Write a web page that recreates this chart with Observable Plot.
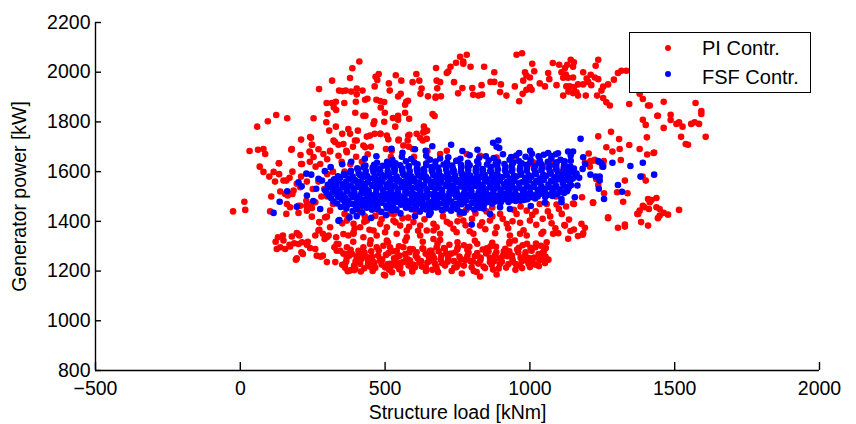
<!DOCTYPE html>
<html><head><meta charset="utf-8">
<script src="https://cdn.jsdelivr.net/npm/d3@7"></script>
<script src="https://cdn.jsdelivr.net/npm/@observablehq/plot@0.6"></script>
<style>
body{margin:0;background:#fff;}
#wrap{position:relative;width:856px;height:424px;font-family:"Liberation Sans",Arial,Helvetica,sans-serif;}
#legend{position:absolute;left:629px;top:32px;width:180px;height:59px;border:1px solid #000;background:#fff;font-size:20px;color:#000;}
#legend .mk{position:absolute;width:6.5px;height:6.5px;border-radius:50%;}
#legend .lb{position:absolute;line-height:24px;white-space:nowrap;}
</style></head><body><div id="wrap"></div>
<script>
const xTicks = [-500, 0, 500, 1000, 1500, 2000];
const yTicks = [800, 1000, 1200, 1400, 1600, 1800, 2000, 2200];
const xLabel = "Structure load [kNm]";
const yLabel = "Generator power [kW]";
const seriesNames = ["PI Contr.", "FSF Contr."];
const seriesColors = ["#ff0000", "#0000ff"];

// PI controller: [structure load kNm, generator power kW]
const piPoints = [
[411,2043],[387,2016],[478,1993],[467,1982],[537,1988],[608,1993],[379,1977],[317,1966],[473,1969],[556,1966],[595,1960],[618,1966],[513,1955],[678,1966],[464,1943],[272,1932],[341,1926],[353,1924],[364,1926],[402,1934],[402,1911],[422,1926],[383,1922],[516,1926],[626,1934],[622,1913],[554,1913],[545,1902],[648,1903],[674,1897],[439,1893],[431,1889],[470,1889],[483,1884],[497,1880],[399,1881],[359,1876],[298,1876],[316,1876],[330,1881],[573,1881],[569,1869],[579,1885],[485,1858],[323,1858],[331,1848],[397,1837],[301,1832],[499,1837],[569,1837],[425,1825],[432,1825],[527,1816],[545,1825],[545,1809],[583,1813],[664,1832],[671,1824],[124,1828],[95,1803],[58,1781],[162,1815],[253,1815],[297,1799],[463,1803],[460,1792],[497,1801],[330,1781],[373,1771],[406,1765],[464,1752],[484,1752],[307,1765],[352,1752],[535,1781],[584,1748],[634,1781],[645,1765],[634,1758],[244,1736],[210,1729],[437,1741],[511,1730],[547,1729],[578,1725],[621,1736],[630,1725],[396,1725],[327,1719],[339,1708],[248,1708],[389,1700],[366,1684],[431,1698],[451,1700],[503,1691],[523,1684],[32,1683],[61,1688],[80,1691],[86,1671],[176,1688],[208,1667],[239,1681],[310,1681],[582,1700],[596,1691],[646,1683],[133,1634],[67,1620],
[782,2070],[759,2062],[745,2038],[726,2022],[718,2003],[713,1997],[954,2070],[973,2076],[676,2017],[680,1935],[693,1903],[675,1902],[690,1960],[770,2043],[770,2034],[795,2022],[842,2022],[738,1960],[767,1936],[801,1936],[833,1948],[877,2000],[864,1961],[877,1961],[804,1909],[822,1906],[835,1910],[752,1915],[900,1951],[897,1920],[919,1906],[948,1943],[975,1913],[963,1883],[983,2000],[988,1987],[1008,2034],[1015,2004],[977,1966],[1000,1979],[1000,1940],[988,1929],[1006,1929],[1034,1955],[1052,1943],[1063,1997],[1079,2037],[1101,2030],[1121,2017],[1129,2030],[1149,2022],[1141,2050],[1152,2040],[1109,2000],[1124,1991],[1115,1978],[1132,1978],[1149,1979],[1067,1972],[1092,1948],[1126,1943],[1138,1943],[1152,1940],[1166,1951],[1184,1951],[1161,1919],[1149,1916],[1133,1922],[1115,1906],[1166,1906],[1193,1906],[1184,2000],[1196,1975],[1210,1990],[1224,1979],[1236,1972],[1201,1961],[1212,1948],[1227,2026],[1236,2050],[1247,1926],[1253,1942],[1232,1906],[1253,1896],[1264,1879],[1276,1866],[1270,1951],[1290,1970],[1304,1997],[1316,2006],[1333,2006],[1414,1866],[1440,1825],[1390,1809],[1343,1872],[1379,1913],[1400,1788],[1404,1738],[1379,1691],[1405,1669],[1427,1675],[1343,1707],[1308,1731],[1280,1760],[1236,1742],[1264,1698],[1285,1681],[1310,1691],[1314,1647],[1224,1648],[1236,1640],[1253,1631],[1250,1620],[1203,1673],[1209,1643],
[1390,1892],[1408,1866],[1462,1881],[1442,1825],[1486,1829],[1486,1808],[1462,1776],[1506,1792],[1515,1799],[1527,1781],[1557,1792],[1569,1799],[1584,1792],[1572,1876],[1592,1844],[1592,1832],[1607,1740],[1538,1711],[1546,1708],[1522,1740],[1429,1677],[1218,1644],[1207,1620],[1190,1637],[1255,1643],[1328,1564],[1400,1564],[1389,1580],[1337,1513],[1322,1479],[1301,1517],[1256,1513],[1236,1546],[1229,1570],[1180,1497],[1152,1470],[1218,1474],[1408,1490],[1420,1486],[1437,1494],[1390,1463],[1379,1443],[1371,1430],[1411,1450],[1448,1450],[1462,1434],[1477,1427],[1515,1446],[1442,1413],[1384,1397],[1408,1383],[1328,1379],[1304,1374],[1270,1413],[1135,1407],[1121,1383],[1152,1367],[1178,1390],[1190,1374],[1182,1346],[1166,1341],[1132,1330],
[1080,1350],[1098,1352],[1119,1385],[1140,1361],[1184,1352],[1149,1472],[1218,1477],[1270,1416],[1328,1387],[1374,1430],[1396,1457],[1414,1477],[1448,1423],[1437,1457],
[-25,1440],[14,1479],[17,1446],[80,1599],[115,1599],[134,1590],[134,1634],[210,1631],[241,1678],[247,1708],[159,1564],[170,1575],[195,1551],[138,1520],[164,1504],[107,1500],[103,1440],[159,1430],[201,1434],[228,1483],[241,1470],[161,1470],[207,1463],[228,1463],[247,1454],[259,1477],[273,1397],[247,1419],[299,1419],[310,1443],[178,1691],[213,1631],[241,1739],[253,1659],[276,1631],[287,1671],[310,1684],[322,1725],[339,1664],[356,1711],[368,1678],[379,1752],[402,1725],[425,1705],[448,1745],[483,1752],[506,1745],[546,1725],[563,1705],[580,1745],[609,1752],[632,1759],[644,1732],[690,1671],[713,1684],[747,1644],[782,1671],[828,1664],[885,1657],[942,1644],[1011,1638],[1080,1631],[149,1564],[155,1510],[184,1524],[207,1537],[172,1457],[201,1463],[230,1443],[253,1477],
[120,1560],[180,1600],[230,1560],[260,1620],[300,1590],[330,1540],[280,1500],[250,1530],[320,1470],[180,1510],[100,1580],[240,1640],[210,1580],[270,1560],[290,1530],[320,1600],[300,1650],[270,1690],[350,1640],[400,1660],[440,1670],[520,1660],[600,1660],[650,1650],
[130,1336],[147,1343],[126,1289],[138,1296],[155,1289],[149,1323],[172,1299],[186,1312],[201,1347],[201,1309],[195,1251],[216,1269],[230,1306],[241,1293],[259,1289],[264,1262],[278,1258],[259,1343],[270,1363],[291,1329],[305,1343],[310,1376],[273,1396],[293,1416],[356,1349],[373,1343],[391,1356],[325,1296],[345,1282],[368,1296],[333,1309],[368,1256],[385,1269],[402,1256],[362,1229],[379,1202],[397,1209],[414,1229],[437,1256],[460,1236],[483,1242],[500,1215],[517,1229],[540,1256],[563,1236],[586,1242],[603,1215],[552,1215],[500,1182],
[122,1318],[178,1339],[195,1353],[204,1343],[170,1306],[213,1316],[192,1246],[211,1276],[233,1318],[285,1262],[299,1236],[273,1366],[285,1350],[299,1336],[331,1336],[339,1309],[333,1282],[328,1236],[362,1213],[385,1205],[373,1269],[408,1282],[425,1296],[448,1309],
[471,1296],[494,1302],[517,1296],[540,1282],[563,1296],[586,1289],[609,1276],[632,1289],[655,1282],[678,1296],
[418,1249],[441,1243],[463,1232],[483,1247],[509,1228],[531,1251],[554,1233],[578,1247],[597,1226],[624,1240],[646,1234],[669,1252],
[371,1199],[394,1204],[428,1211],[457,1200],[496,1185],[519,1218],[549,1207],[594,1198],[641,1200],[676,1219],
[368,1403],[391,1390],[414,1376],[437,1403],[460,1363],[483,1390],[506,1376],[529,1403],[552,1383],[575,1363],[598,1397],[621,1383],[644,1363],[667,1390],
[391,1350],[425,1336],[471,1343],[506,1323],[540,1350],[575,1336],[621,1343],[667,1329],
[681,1311],[703,1293],[722,1306],[749,1287],[772,1304],[791,1298],[818,1310],[837,1287],[864,1300],[883,1298],[910,1280],[929,1311],[956,1287],[975,1304],[1002,1294],[1021,1311],[1048,1280],
[664,1264],[692,1247],[711,1271],[738,1240],[757,1258],[784,1260],[803,1238],[830,1254],[849,1271],[876,1240],[895,1251],[922,1260],[941,1238],[968,1254],[987,1244],[1014,1254],[1033,1244],
[678,1209],[707,1222],[747,1216],[816,1196],[828,1178],[862,1236],[885,1186],[966,1222],[1000,1216],
[1058,1316],[1055,1293],[1040,1350],[989,1343],[966,1350],[931,1343],[948,1323],
[667,1363],[690,1350],[724,1390],[747,1356],[770,1403],[805,1350],[828,1383],[862,1403],[885,1376],[897,1430],[920,1390],[954,1430],[989,1443],[1000,1403],[1034,1470],[1058,1470],
[352,1225],[376,1262],[398,1238],[421,1268],[447,1218],[452,1280],[476,1262],[488,1226],[512,1272],[524,1195],[535,1238],[548,1300],[570,1268],[581,1222],[596,1288],[612,1252],[627,1218],[640,1270],[652,1240],[663,1205],[685,1280],[696,1232],[718,1252],[730,1200],[742,1275],[754,1228],[765,1190],[776,1245],[788,1275],[799,1215],[810,1260],[822,1230],[845,1212],[857,1280],[868,1225],[880,1265],[892,1210],[903,1238],[915,1290],[926,1228],[938,1262],[950,1205],[960,1275],[972,1240],[983,1262],[995,1230],[1006,1282],[1018,1226],[1030,1268],[1042,1250],[1052,1232],
[356,1270],[366,1240],[381,1286],[393,1222],[406,1262],[416,1198],[429,1275],[441,1228],[455,1258],[466,1213],[478,1284],[490,1246],[503,1265],[514,1205],[527,1280],[538,1222],[550,1262],[559,1190],[572,1246],[584,1276],[593,1208],[606,1262],[618,1234],[629,1292],[641,1214],[651,1258],[660,1282],[672,1230],[683,1196],[694,1262],[706,1290],[716,1238],[728,1270],[739,1214],[751,1296],[761,1248],[772,1222],[784,1286],[795,1240],[806,1200],[818,1272],[829,1244],[840,1218],[851,1292],[862,1254],[873,1206],[884,1276],[896,1228],[907,1262],[918,1214],[929,1280],[940,1246],[951,1228],[962,1294],[973,1212],[985,1276],[996,1252],[1008,1238],[1019,1296],[1031,1220],[1043,1272],[1054,1258],[1064,1246],[1038,1302],[990,1310],[930,1318],[870,1314],[810,1322],[750,1316],[690,1325],[630,1318],[570,1322],[510,1316],[450,1324],[390,1318],
[352,1392],[372,1420],[395,1372],[412,1444],[428,1398],[446,1366],[466,1422],[488,1408],[500,1356],[518,1432],[536,1396],[560,1412],[583,1378],[603,1446],[614,1362],[636,1408],[656,1432],[678,1376],[699,1442],[713,1398],[736,1370],[758,1428],[778,1384],[792,1360],[812,1432],[835,1396],[846,1368],[870,1420],[880,1352],[906,1410],[925,1372],[945,1446],[966,1394],[978,1364],[1008,1426],[1022,1386],[1044,1410],[1062,1440],[1075,1392],[1092,1468],[1110,1430],[1125,1460],[1088,1372],[1046,1358],[968,1460],[870,1456],[780,1446],
[430,1420],[480,1440],[530,1430],[580,1415],[620,1440],[700,1420],[750,1400],[800,1410],[850,1440],[940,1400],[1020,1440],[1070,1420],[1100,1450],[360,1430],[400,1460],[300,1500],[350,1510],[320,1550],[360,1600],[380,1630],[420,1640],[460,1620],[1100,1600],[1050,1620],[1000,1630],[1120,1540],[1090,1500]
];

// FSF controller: [structure load kNm, generator power kW]
const fsfPoints = [
[388,1441],[421,1436],[455,1447],[487,1438],[524,1444],[553,1432],[591,1449],[620,1440],[657,1437],[696,1446],[728,1443],[772,1435],[808,1448],[840,1452],
[366,1452],[404,1449],[437,1455],[471,1450],[506,1453],[539,1447],[572,1455],[606,1451],[641,1448],[676,1456],[712,1452],[749,1449],[790,1457],[826,1455],
[347,1458],[370,1466],[400,1460],[423,1463],[449,1468],[474,1457],[504,1464],[527,1461],[555,1467],[578,1459],[608,1465],[629,1462],[659,1456],[682,1466],[711,1460],[734,1463],[764,1469],[786,1458],[817,1464],[841,1467],[870,1471],[898,1474],
[334,1472],[361,1476],[386,1470],[411,1474],[437,1477],[463,1471],[489,1475],[516,1472],[541,1478],[567,1470],[593,1474],[618,1477],[644,1469],[670,1475],[697,1473],[722,1478],[747,1471],[773,1476],[799,1474],[826,1471],[851,1477],[876,1479],[901,1480],[926,1478],[951,1482],[979,1486],
[322,1480],[351,1488],[373,1483],[403,1478],[422,1487],[454,1485],[476,1479],[505,1490],[525,1482],[557,1486],[577,1481],[606,1489],[628,1484],[657,1477],[679,1487],[709,1483],[729,1480],[759,1491],[780,1485],[811,1479],[832,1486],[862,1488],[884,1482],[913,1490],[936,1485],[967,1483],[991,1489],[1018,1492],
[314,1493],[338,1498],[363,1494],[388,1497],[413,1492],[440,1499],[465,1495],[491,1493],[516,1498],[542,1494],[567,1497],[592,1492],[619,1499],[644,1495],[669,1493],[695,1498],[720,1494],[746,1497],[771,1492],[797,1499],[822,1495],[848,1493],[873,1498],[899,1494],[924,1497],[950,1492],[975,1499],[1001,1497],[1027,1500],[1053,1498],[1078,1502],
[306,1503],[331,1510],[354,1504],[382,1508],[404,1500],[432,1511],[453,1505],[484,1502],[504,1509],[533,1506],[556,1500],[584,1512],[605,1507],[635,1503],[655,1509],[686,1506],[706,1501],[736,1511],[757,1504],[787,1508],[808,1502],[838,1510],[859,1506],[889,1503],[910,1511],[940,1507],[961,1502],[991,1509],[1012,1505],[1042,1511],[1064,1507],[1095,1510],[1118,1514],
[298,1515],[320,1519],[344,1514],[369,1520],[394,1516],[418,1513],[443,1520],[469,1516],[494,1514],[519,1520],[545,1515],[570,1518],[595,1513],[621,1520],[646,1516],[671,1514],[697,1519],[722,1515],[747,1518],[773,1513],[798,1520],[823,1516],[849,1514],[874,1519],[899,1515],[925,1518],[950,1513],[976,1520],[1001,1516],[1027,1518],[1052,1515],[1078,1520],[1104,1518],[1128,1521],
[293,1525],[319,1531],[340,1527],[370,1522],[391,1533],[420,1528],[442,1524],[470,1532],[492,1527],[521,1521],[543,1530],[572,1528],[593,1534],[622,1524],[644,1529],[673,1532],[695,1526],[724,1522],[746,1531],[775,1528],[796,1533],[826,1525],[847,1529],[877,1532],[898,1527],[928,1523],[949,1531],[979,1528],[1000,1535],[1030,1526],[1051,1530],[1081,1533],[1102,1528],[1132,1531],
[306,1537],[332,1541],[357,1536],[382,1542],[407,1538],[432,1535],[458,1542],[483,1538],[508,1536],[534,1541],[559,1537],[584,1540],[610,1535],[635,1542],[660,1538],[686,1536],[711,1541],[736,1537],[762,1540],[787,1535],[812,1542],[838,1538],[863,1536],[888,1541],[914,1537],[939,1540],[964,1535],[990,1542],[1015,1538],[1040,1541],[1066,1537],[1091,1542],[1117,1540],[1142,1545],
[302,1547],[324,1553],[353,1549],[375,1544],[404,1555],[425,1550],[455,1546],[476,1554],[505,1548],[527,1543],[556,1552],[578,1550],[607,1556],[628,1546],[658,1551],[679,1554],[708,1548],[730,1544],[759,1553],[780,1550],[810,1555],[831,1547],[861,1551],[882,1554],[911,1549],[933,1545],[962,1553],[983,1557],[1013,1550],[1034,1555],[1064,1548],[1085,1558],[1114,1553],[1138,1560],
[313,1559],[338,1563],[364,1558],[389,1564],[414,1560],[440,1557],[465,1564],[490,1560],[516,1558],[541,1563],[566,1559],[592,1562],[617,1557],[642,1564],[668,1560],[693,1558],[718,1563],[744,1559],[769,1562],[794,1557],[820,1564],[845,1560],[870,1558],[896,1563],[921,1559],[946,1562],[972,1557],[997,1565],[1022,1562],[1048,1566],[1073,1563],[1099,1569],[1124,1567],[1148,1572],
[324,1569],[345,1575],[375,1571],[396,1566],[425,1577],[447,1572],[476,1568],[498,1576],[527,1570],[548,1565],[578,1574],[599,1572],[628,1578],[650,1568],[679,1573],[701,1576],[730,1570],[751,1566],[781,1575],[802,1572],[831,1578],[853,1569],[882,1574],[904,1577],[933,1571],[954,1580],[984,1574],[1005,1579],[1035,1572],[1056,1582],[1085,1577],[1107,1585],[1132,1580],[1158,1588],
[337,1581],[362,1585],[388,1580],[413,1586],[438,1582],[464,1579],[489,1586],[514,1582],[540,1580],[565,1585],[590,1581],[616,1584],[641,1579],[666,1586],[692,1582],[717,1580],[742,1585],[768,1581],[793,1584],[818,1579],[844,1586],[869,1582],[894,1580],[920,1585],[945,1583],[970,1588],[996,1585],[1021,1590],[1046,1587],[1072,1592],[1097,1590],[1122,1594],[1148,1597],
[358,1591],[380,1597],[409,1593],[431,1588],[460,1599],[481,1594],[511,1590],[532,1598],[562,1592],[583,1587],[612,1596],[634,1594],[663,1600],[684,1590],[714,1595],[735,1598],[765,1592],[786,1588],[815,1597],[837,1594],[866,1600],[887,1591],[917,1596],[938,1602],[968,1597],[989,1604],[1018,1598],[1040,1606],[1069,1601],[1091,1608],[1116,1603],[1146,1610],
[382,1603],[407,1607],[433,1602],[458,1608],[483,1604],[509,1601],[534,1608],[559,1604],[585,1602],[610,1607],[635,1603],[661,1606],[686,1601],[711,1608],[737,1604],[762,1602],[787,1607],[813,1603],[838,1606],[863,1602],[889,1609],[914,1606],[939,1610],[965,1608],[990,1613],[1015,1611],[1041,1616],[1066,1614],[1091,1619],[1117,1617],[1140,1620],
[404,1613],[426,1619],[457,1615],[479,1610],[508,1621],[530,1616],[559,1612],[581,1620],[610,1614],[632,1609],[661,1618],[683,1616],[712,1622],[734,1612],[763,1617],[785,1620],[814,1614],[836,1610],[865,1619],[887,1624],[916,1618],[938,1626],[967,1620],[989,1628],[1018,1623],[1040,1630],[1069,1625],[1091,1632],[1118,1628],
[432,1625],[462,1628],[492,1624],[522,1630],[552,1626],[582,1623],[612,1630],[642,1626],[672,1624],[702,1629],[732,1625],[762,1628],[792,1626],[822,1631],[852,1629],[882,1633],[912,1631],[942,1636],[972,1634],[1002,1638],[1032,1636],[1062,1640],[1092,1638],[1120,1642],
[472,1636],[507,1640],[536,1634],[572,1642],[601,1637],[642,1633],[674,1641],[714,1638],[746,1644],[786,1636],[818,1642],[858,1646],[890,1640],[930,1648],[962,1643],[1002,1650],[1034,1646],[1074,1652],[1106,1648],
[525,1648],[590,1651],[655,1648],[690,1653],[760,1652],[825,1656],[875,1655],[935,1659],[985,1660],[1030,1662],[1075,1663],
[558,1660],[642,1664],[718,1658],[792,1666],[848,1662],[907,1670],[953,1665],[1007,1672],[1048,1668],[1097,1674],
[728,1708],[873,1716],[891,1725],[885,1700],[894,1695],[767,1683],[819,1688],[963,1675],[1063,1675],[1132,1681],[1149,1681],[1184,1658],[1175,1732],[640,1684],[560,1676],[470,1662],[430,1652],[383,1640],[352,1630],[522,1692],[663,1702],[603,1690],[1001,1684],[1090,1670],
[136,1479],[115,1434],[195,1459],[201,1557],[228,1592],[245,1588],[270,1571],[282,1564],[276,1450],[230,1504],[342,1405],[377,1416],[339,1402],[262,1531],[252,1482],[292,1602],[312,1618],[162,1521],[212,1541],
[799,1387],[759,1437],[862,1430],[897,1457],[931,1450],[1109,1477],[1109,1490],[1155,1497],[1256,1490],[603,1421],[503,1425],[452,1414],[402,1421],[652,1426],[1003,1462],[1052,1476],
[1135,1540],[1164,1544],[1170,1575],[1209,1588],[1227,1580],[1241,1580],[1241,1564],[1238,1531],[1304,1546],[1318,1519],[1382,1580],[1429,1588],[1236,1643],[1247,1634],[1253,1620],[1285,1636],[1347,1623],[1390,1636],[1141,1665],[1141,1644],[1131,1601],[1152,1612],[1122,1622],[1161,1592],[1182,1611],[1112,1571],[1191,1631]
];

const fmt = d3.format("d");
const chart = Plot.plot({
  width: 856, height: 424,
  marginLeft: 95, marginRight: 37, marginTop: 22, marginBottom: 54,
  style: {fontFamily: '"Liberation Sans", Arial, Helvetica, sans-serif', fontSize: "19.5px", color: "#000", background: "#fff", overflow: "visible"},
  x: {domain: [xTicks[0], xTicks[xTicks.length - 1]]},
  y: {domain: [yTicks[0], yTicks[yTicks.length - 1]]},
  marks: [
    Plot.dot(piPoints, {x: d => d[0], y: d => d[1], r: 3.3, fill: seriesColors[0]}),
    Plot.dot(fsfPoints, {x: d => d[0], y: d => d[1], r: 3.3, fill: seriesColors[1]}),
    Plot.ruleY([yTicks[0]], {stroke: "#000", strokeWidth: 1.4}),
    Plot.ruleX([xTicks[0]], {stroke: "#000", strokeWidth: 1.4}),
    Plot.axisX({ticks: xTicks, tickSize: -8, tickPadding: 18.5, tickFormat: fmt, strokeWidth: 1.4,
      label: xLabel, labelAnchor: "center", labelOffset: 48, labelArrow: "none"}),
    Plot.axisY({ticks: yTicks, tickSize: -6, tickPadding: 11, tickFormat: fmt, strokeWidth: 1.4,
      label: yLabel, labelAnchor: "center", labelOffset: 83, labelArrow: "none"})
  ]
});
const wrap = document.getElementById("wrap");
wrap.appendChild(chart);

const legend = document.createElement("div");
legend.id = "legend";
const mkTop = [11.7, 37.7];
const lbTop = [3, 31.5];
seriesNames.forEach((name, i) => {
  const mk = document.createElement("span");
  mk.className = "mk";
  mk.style.background = seriesColors[i];
  mk.style.left = "34.7px";
  mk.style.top = mkTop[i] + "px";
  legend.appendChild(mk);
  const lb = document.createElement("span");
  lb.className = "lb";
  lb.textContent = name;
  lb.style.left = "72px";
  lb.style.top = lbTop[i] + "px";
  legend.appendChild(lb);
});
wrap.appendChild(legend);
</script></body></html>
